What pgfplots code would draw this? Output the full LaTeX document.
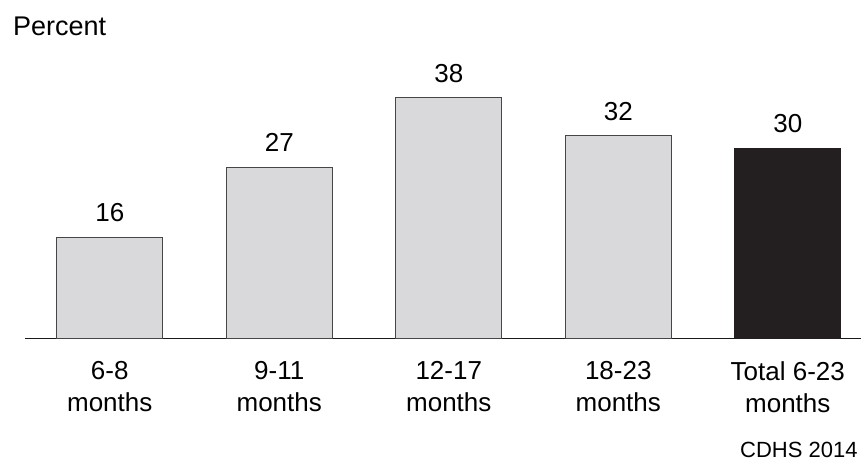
\documentclass[border=0pt]{standalone}
\usepackage{pgfplots}
\pgfplotsset{compat=1.18}
\usepackage{fontspec}
\setmainfont{Liberation Sans}
\definecolor{barg}{RGB}{217,217,219}
\definecolor{barb}{RGB}{35,31,32}
\definecolor{edgeg}{RGB}{70,70,70}
\begin{document}
\begin{tikzpicture}[x=1pt,y=1pt]
\useasboundingbox (0,0) rectangle (861,462);
\begin{axis}[
  at={(25pt,123.7pt)}, anchor=south west,
  scale only axis, width=836pt, height=316.5pt,
  xmin=-0.5, xmax=4.432, ymin=0, ymax=50,
  axis x line*=bottom, axis y line=none,
  x axis line style={line width=1pt, color=black!90},
  ybar, bar width=0.625, bar shift=0pt,
  xtick={0,1,2,3,4}, major tick length=0pt,
  xticklabels={{6-8\\months},{9-11\\months},{12-17\\months},{18-23\\months},{Total 6-23\\months}},
  xticklabel style={font=\fontsize{26}{32}\selectfont, align=center, anchor=north, inner sep=0pt, yshift=-22.7pt},
  ytick=\empty,
  /pgf/number format/assume math mode=true,
  nodes near coords,
  every node near coord/.append style={font=\fontsize{26}{31}\selectfont, anchor=south, inner sep=0pt, yshift=15pt, color=black},
  clip=false,
]
\addplot[fill=barg, draw=edgeg, line width=0.8pt] coordinates {(0,16) (1,27) (2,38) (3,32)};
\addplot[fill=barb, draw=barb, line width=0.8pt] coordinates {(4,30)};
\end{axis}
\node[anchor=base west, inner sep=0pt, font=\fontsize{27}{32}\selectfont] at (13,426) {Percent};
\node[anchor=base west, inner sep=0pt, font=\fontsize{22}{26}\selectfont] at (740,4) {CDHS 2014};
\end{tikzpicture}
\end{document}
